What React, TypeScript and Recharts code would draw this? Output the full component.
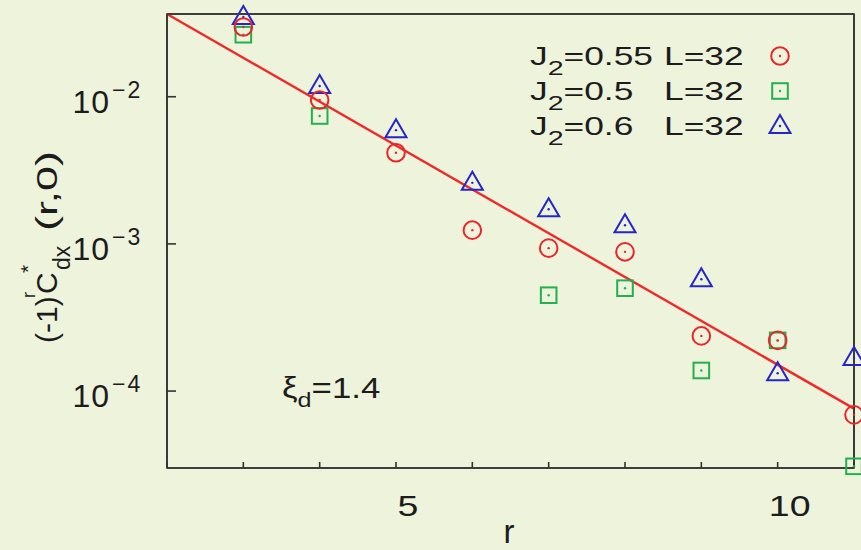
import { ComposedChart, Scatter, Line, XAxis, YAxis, ReferenceArea } from 'recharts';

// distances r along x and the correlation values for each J2
const rValues = [3, 4, 5, 6, 7, 8, 9, 10, 11];
const corrJ055 = [0.0298, 0.0095, 0.00416, 0.00124, 0.000936, 0.000883, 0.000237, 0.000221, 0.0000689];
const corrJ050 = [0.0264, 0.0074, null, null, 0.000448, 0.0005, 0.000138, 0.000221, 0.0000308];
const corrJ060 = [0.0348, 0.01183, 0.00593, 0.0026, 0.00172, 0.00134, 0.000575, 0.000132, 0.000168];

// exponential fit, end points
const fitR = [2, 11];
const fitValues = [0.0365, 0.000076];

const seriesJ2 = ['0.55', '0.5', '0.6'];
const seriesL = ['32', '32', '32'];
const xiLabel = '1.4';

const xDomain = [2, 11];
const xTicks = [2, 3, 4, 5, 6, 7, 8, 9, 10, 11];
const xLabeledTicks = [5, 10];
const yDomain = [3e-5, 0.0365];
const yMajorTicks = [1e-4, 1e-3, 1e-2];
const yMinorSteps = [2, 3, 4, 5, 6, 7, 8, 9];

const yMinorTicks: number[] = [];
[1e-5, ...yMajorTicks].forEach((d) => {
  yMinorSteps.forEach((m) => {
    const v = m * d;
    if (v > yDomain[0] * 1.001 && v < yDomain[1] * 0.999) yMinorTicks.push(v);
  });
});

const BG = '#eef3dc';
const AXIS = '#333333';
const INK = '#1c1c1c';
const RED = '#e8262b';
const GREEN = '#22b14c';
const BLUE = '#2626c8';
const FONT = '"Liberation Sans", Arial, Helvetica, sans-serif';

const tickStroke = { stroke: AXIS, strokeWidth: 1.6 };

const toPoints = (vals: (number | null)[]) =>
  rValues.map((r, i) => ({ r, v: vals[i] })).filter((p) => p.v != null);

const fitData = fitR.map((r, i) => ({ r, v: fitValues[i] }));

function CircleMark({ cx, cy }: any) {
  return (
    <g>
      <circle cx={cx} cy={cy} r={8.8} fill="none" stroke={RED} strokeWidth={2} />
      <circle cx={cx} cy={cy} r={1.2} fill={RED} />
    </g>
  );
}

function SquareMark({ cx, cy }: any) {
  return (
    <g>
      <rect x={cx - 7.8} y={cy - 7.8} width={15.6} height={15.6} fill="none" stroke={GREEN} strokeWidth={2} />
      <circle cx={cx} cy={cy} r={1.2} fill={GREEN} />
    </g>
  );
}

function TriangleMark({ cx, cy }: any) {
  return (
    <g>
      <polygon
        points={`${cx},${cy - 11} ${cx + 10.5},${cy + 7} ${cx - 10.5},${cy + 7}`}
        fill="none"
        stroke={BLUE}
        strokeWidth={2}
      />
      <circle cx={cx} cy={cy} r={1.2} fill={BLUE} />
    </g>
  );
}

const marks = [CircleMark, SquareMark, TriangleMark];

// tick lines point inward (negative tickSize), so the label anchor sits 9px inside the frame
function leftLabel(props: any) {
  const { x, y, payload } = props;
  const exp = Math.round(Math.log10(payload.value));
  return (
    <g fontFamily={FONT} fill={INK}>
      <text x={x - 66} y={y + 16} fontSize={32} textAnchor="end" letterSpacing={1}>
        10
      </text>
      <text x={x - 64} y={y + 1} fontSize={23} letterSpacing={2}>
        {`\u2212${-exp}`}
      </text>
    </g>
  );
}

function bottomLabel(props: any) {
  const { x, y, payload } = props;
  if (!xLabeledTicks.includes(payload.value)) return <g />;
  return (
    <g transform={`translate(${x + 12},${y + 54}) scale(1.25,1)`}>
      <text x={0} y={0} fontSize={30} fontFamily={FONT} fill={INK} textAnchor="middle">
        {payload.value}
      </text>
    </g>
  );
}

function KeyBox() {
  const baselines = [65, 100, 135];
  return (
    <g fontFamily={FONT} fill={INK}>
      {seriesJ2.map((j, i) => {
        const Mark = marks[i];
        return (
          <g key={j}>
            <g transform={`translate(530,${baselines[i]}) scale(1.36,1)`}>
              <text x={0} y={0} fontSize={26}>
                J<tspan dy={10} fontSize={21}>2</tspan>
                <tspan dy={-10}>{`=${j}`}</tspan>
              </text>
            </g>
            <g transform={`translate(664,${baselines[i]}) scale(1.36,1)`}>
              <text x={0} y={0} fontSize={26}>{`L=${seriesL[i]}`}</text>
            </g>
            <Mark cx={780} cy={baselines[i] - 9} />
          </g>
        );
      })}
    </g>
  );
}

function AxisTitles() {
  return (
    <g fontFamily={FONT} fill={INK}>
      <text x={509} y={543} fontSize={33} textAnchor="middle">r</text>
      <g transform="translate(57,343) rotate(-90)">
        <text x={0} y={0} fontSize={30}>(-1)</text>
        <text x={45} y={-22} fontSize={18}>r</text>
        <text x={49} y={0} fontSize={30}>C</text>
        <text x={70} y={-22} fontSize={21}>*</text>
        <text x={73} y={13} fontSize={23}>dx</text>
        <g transform="translate(112,0) scale(1.5,1)">
          <text x={0} y={0} fontSize={30}>(r,0)</text>
        </g>
      </g>
      <g transform="translate(282,398) scale(1.2,1)">
        <text x={0} y={0} fontSize={29}>
          ξ<tspan dy={9} fontSize={21}>d</tspan>
          <tspan dy={-9}>{`=${xiLabel}`}</tspan>
        </text>
      </g>
    </g>
  );
}

export default function App() {
  return (
    <div style={{ position: 'absolute', left: 0, top: 0, width: 861, height: 550, background: BG }}>
      <ComposedChart width={861} height={550} margin={{ top: 12, right: 0, bottom: 0, left: 0 }}>
        <XAxis
          xAxisId="bottom"
          dataKey="r"
          type="number"
          domain={xDomain}
          ticks={xTicks}
          interval={0}
          height={82}
          tickSize={-6}
          tickMargin={0}
          tickLine={tickStroke}
          axisLine={{ stroke: AXIS, strokeWidth: 1.6 }}
          tick={bottomLabel}
        />
        <XAxis
          xAxisId="top"
          orientation="top"
          dataKey="r"
          type="number"
          domain={xDomain}
          allowDataOverflow
          ticks={xTicks}
          interval={0}
          height={2}
          tickSize={-6}
          tickMargin={0}
          tickLine={tickStroke}
          axisLine={{ stroke: AXIS, strokeWidth: 1.6 }}
          tick={false}
        />
        <YAxis
          yAxisId="left"
          dataKey="v"
          type="number"
          scale="log"
          domain={yDomain}
          ticks={yMajorTicks}
          interval={0}
          width={167}
          tickSize={-9}
          tickMargin={0}
          tickLine={tickStroke}
          axisLine={{ stroke: AXIS, strokeWidth: 1.6 }}
          tick={leftLabel}
        />
        <YAxis
          yAxisId="leftMinor"
          dataKey="v"
          type="number"
          scale="log"
          domain={yDomain}
          allowDataOverflow
          ticks={yMinorTicks}
          interval={0}
          width={0}
          tickSize={-5}
          tickMargin={0}
          tickLine={tickStroke}
          axisLine={false}
          tick={false}
        />
        <YAxis
          yAxisId="right"
          orientation="right"
          dataKey="v"
          type="number"
          scale="log"
          domain={yDomain}
          allowDataOverflow
          ticks={yMajorTicks}
          interval={0}
          width={7}
          tickSize={-9}
          tickMargin={0}
          tickLine={tickStroke}
          axisLine={{ stroke: AXIS, strokeWidth: 1.6 }}
          tick={false}
        />
        <YAxis
          yAxisId="rightMinor"
          orientation="right"
          dataKey="v"
          type="number"
          scale="log"
          domain={yDomain}
          allowDataOverflow
          ticks={yMinorTicks}
          interval={0}
          width={0}
          tickSize={-5}
          tickMargin={0}
          tickLine={tickStroke}
          axisLine={false}
          tick={false}
        />
        {/* plot frame */}
        <ReferenceArea
          xAxisId="bottom"
          yAxisId="left"
          x1={xDomain[0]}
          x2={xDomain[1]}
          y1={yDomain[0]}
          y2={yDomain[1]}
          ifOverflow="visible"
          fill="none"
          stroke={AXIS}
          strokeWidth={1.6}
        />
        <Line
          data={fitData}
          dataKey="v"
          xAxisId="bottom"
          yAxisId="left"
          type="linear"
          stroke="#ee2b2b"
          strokeWidth={2.4}
          dot={false}
          activeDot={false}
          isAnimationActive={false}
        />
        <Scatter
          data={toPoints(corrJ050)}
          dataKey="v"
          xAxisId="bottom"
          yAxisId="left"
          shape={<SquareMark />}
          isAnimationActive={false}
        />
        <Scatter
          data={toPoints(corrJ060)}
          dataKey="v"
          xAxisId="bottom"
          yAxisId="left"
          shape={<TriangleMark />}
          isAnimationActive={false}
        />
        <Scatter
          data={toPoints(corrJ055)}
          dataKey="v"
          xAxisId="bottom"
          yAxisId="left"
          shape={<CircleMark />}
          isAnimationActive={false}
        />
        <KeyBox />
        <AxisTitles />
      </ComposedChart>
    </div>
  );
}
